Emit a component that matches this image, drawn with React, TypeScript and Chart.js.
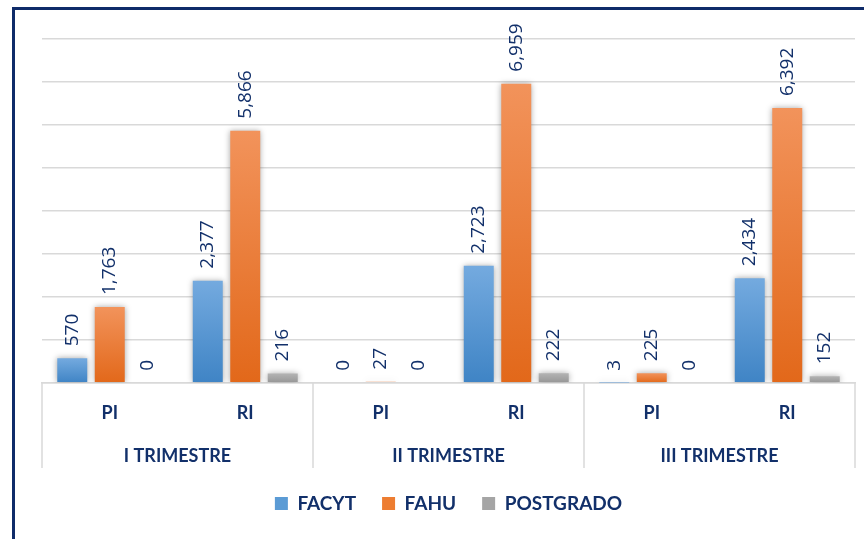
import React, { useEffect, useRef } from "react";
import { Chart, registerables } from "chart.js";

Chart.register(...registerables);

const categories = ["PI", "RI", "PI", "RI", "PI", "RI"];
const trimesters = ["I TRIMESTRE", "II TRIMESTRE", "III TRIMESTRE"];
const seriesNames = ["FACYT", "FAHU", "POSTGRADO"];
const facyt = [570, 2377, 0, 2723, 3, 2434];
const fahu = [1763, 5866, 27, 6959, 225, 6392];
const postgrado = [0, 216, 0, 222, 0, 152];
const yMax = 8000;
const yStep = 1000;

const NAVY = "#12306a";
const GRID = "#d9d9d9";
const colorStops: [string, string][] = [
  ["#74aadf", "#3f84c5"],
  ["#f2935b", "#e2681a"],
  ["#b3b3b3", "#969696"],
];
const solidColors = ["#5b9bd5", "#ed7d31", "#a5a5a5"];

function gradientFor(idx: number) {
  return (ctx: any) => {
    const chart = ctx.chart;
    if (!chart.chartArea || ctx.type !== "data") return solidColors[idx];
    const ys = chart.scales.y;
    const top = ys.getPixelForValue(ctx.raw);
    const bot = ys.getPixelForValue(0);
    if (!isFinite(top) || Math.abs(bot - top) < 1) return colorStops[idx][0];
    const g = chart.ctx.createLinearGradient(0, top, 0, bot);
    g.addColorStop(0, colorStops[idx][0]);
    g.addColorStop(1, colorStops[idx][1]);
    return g;
  };
}

const barDecorPlugin = {
  id: "barDecor",
  beforeDatasetsDraw(chart: any) {
    const c = chart.ctx;
    c.save();
    c.shadowColor = "rgba(0,0,0,0.35)";
    c.shadowBlur = 6;
    c.shadowOffsetX = 0;
    c.shadowOffsetY = 0;
  },
  afterDatasetsDraw(chart: any) {
    const c = chart.ctx;
    c.restore();
    c.save();
    c.fillStyle = NAVY;
    c.font = "19px 'Open Sans'";
    chart.data.datasets.forEach((ds: any, i: number) => {
      const meta = chart.getDatasetMeta(i);
      meta.data.forEach((bar: any, j: number) => {
        const v = ds.data[j];
        c.save();
        c.translate(bar.x, bar.y - 12);
        c.rotate(-Math.PI / 2);
        c.textAlign = "left";
        c.textBaseline = "middle";
        c.fillText(Number(v).toLocaleString("en-US"), 0, 0);
        c.restore();
      });
    });
    c.restore();
  },
  afterDraw(chart: any) {
    const c = chart.ctx;
    const xs = chart.scales.x;
    const x2 = chart.scales.x2;
    const bounds: number[] = [xs.left];
    for (let k = 2; k < categories.length; k += 2) {
      bounds.push((xs.getPixelForValue(k - 1) + xs.getPixelForValue(k)) / 2);
    }
    bounds.push(xs.right);
    c.save();
    c.strokeStyle = GRID;
    c.lineWidth = 1.5;
    bounds.forEach((bx) => {
      c.beginPath();
      c.moveTo(bx, chart.chartArea.bottom);
      c.lineTo(bx, x2.bottom);
      c.stroke();
    });
    c.restore();
  },
};

export default function App() {
  const ref = useRef<HTMLCanvasElement>(null);
  useEffect(() => {
    if (!ref.current) return;
    const chart = new Chart(ref.current, {
      type: "bar",
      data: {
        labels: categories,
        datasets: [facyt, fahu, postgrado].map((d, i) => ({
          label: seriesNames[i],
          data: d,
          backgroundColor: gradientFor(i),
          borderWidth: 0,
          categoryPercentage: 0.83,
          barPercentage: 0.8,
        })),
      },
      options: {
        responsive: false,
        devicePixelRatio: 1,
        animation: false,
        layout: { padding: { left: 42, right: 9, top: 39, bottom: 16 } },
        plugins: {
          tooltip: { enabled: false },
          legend: {
            position: "bottom",
            labels: {
              boxWidth: 13,
              boxHeight: 13,
              padding: 26,
              color: NAVY,
              font: { family: "Lato", weight: "bold", size: 19 },
              generateLabels: () =>
                seriesNames.map((n, i) => ({
                  text: n,
                  fillStyle: solidColors[i],
                  strokeStyle: solidColors[i],
                  lineWidth: 0,
                  datasetIndex: i,
                  fontColor: NAVY,
                })),
            },
          },
        },
        scales: {
          y: {
            min: 0,
            max: yMax,
            ticks: { display: false, stepSize: yStep },
            grid: { color: GRID, lineWidth: 1.5, drawTicks: false },
            border: { display: false },
          },
          x: {
            type: "category",
            labels: categories,
            grid: { display: false, drawTicks: false },
            border: { display: true, color: GRID, width: 1.5 },
            ticks: {
              color: NAVY,
              padding: 20,
              font: { family: "Lato", weight: "bold", size: 18 },
              maxRotation: 0,
              autoSkip: false,
            },
          },
          x2: {
            type: "category",
            position: "bottom",
            labels: trimesters,
            grid: { display: false, drawTicks: false },
            border: { display: false },
            ticks: {
              color: NAVY,
              padding: 1,
              font: { family: "Lato", weight: "bold", size: 18 },
              maxRotation: 0,
              autoSkip: false,
            },
          },
        },
      },
      plugins: [barDecorPlugin],
    } as any);
    return () => chart.destroy();
  }, []);

  return (
    <div
      style={{
        position: "fixed",
        left: 0,
        top: 0,
        width: 864,
        height: 539,
        overflow: "hidden",
        background: "#ffffff",
      }}
    >
      <canvas
        ref={ref}
        width={864}
        height={539}
        style={{ position: "absolute", left: 0, top: 0, width: 864, height: 539 }}
      />
      <div
        style={{
          position: "absolute",
          left: 12,
          top: 7,
          width: 900,
          height: 600,
          border: "3px solid #0f2b69",
          pointerEvents: "none",
        }}
      />
    </div>
  );
}
